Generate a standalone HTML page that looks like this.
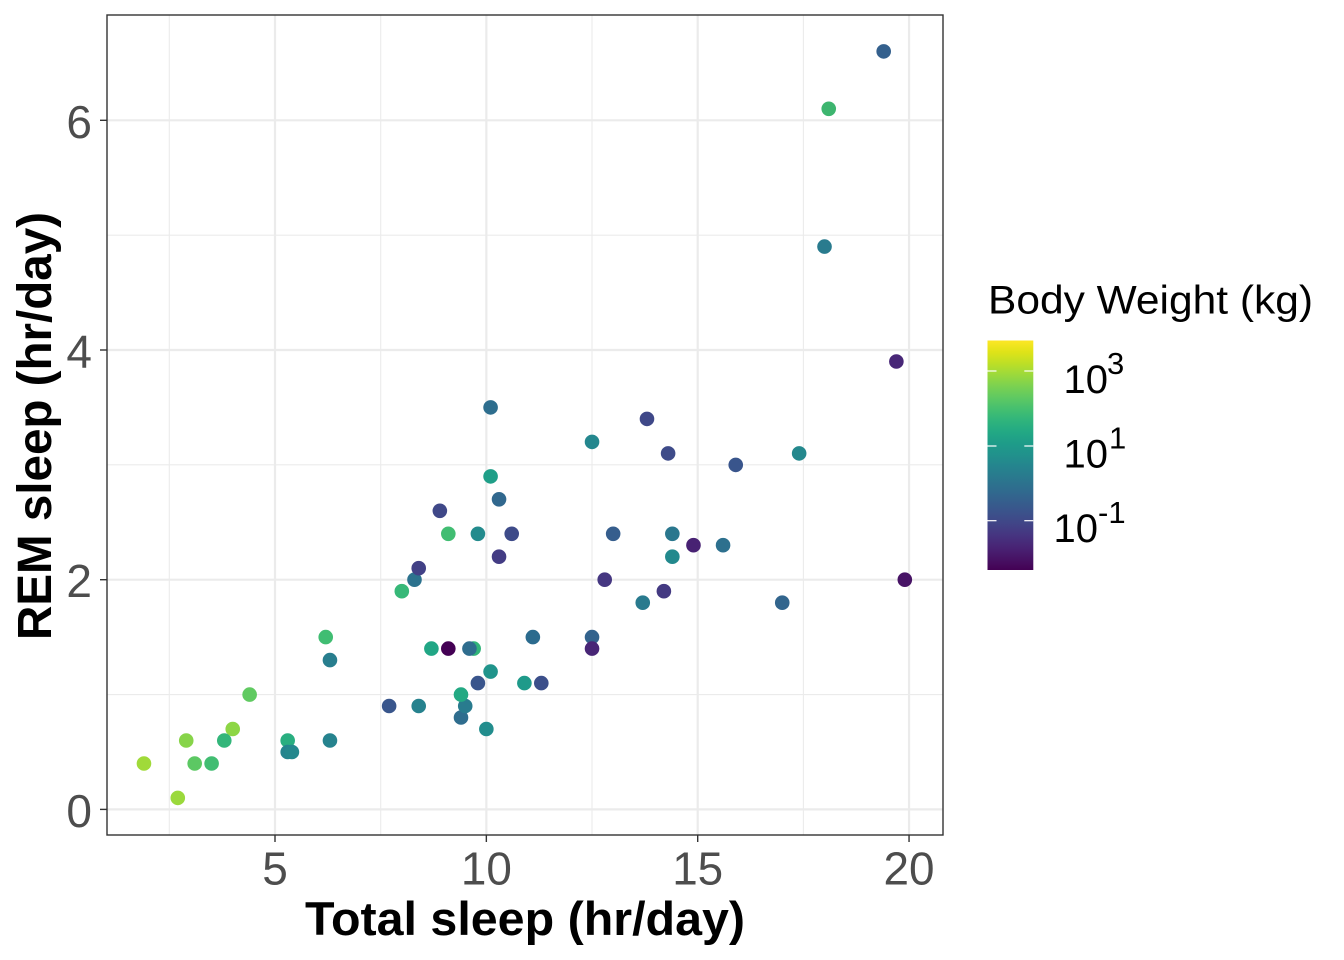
<!DOCTYPE html>
<html>
<head>
<meta charset="utf-8">
<style>
html,body{margin:0;padding:0;background:#fff;}
svg{display:block;}
text{font-family:"Liberation Sans",Arial,sans-serif;}
</style>
</head>
<body>
<svg width="1344" height="960" viewBox="0 0 1344 960" xmlns="http://www.w3.org/2000/svg">
<defs>
<linearGradient id="vir" x1="0" y1="1" x2="0" y2="0">
<stop offset="0" stop-color="#440154"/>
<stop offset="0.05" stop-color="#471365"/>
<stop offset="0.1" stop-color="#482475"/>
<stop offset="0.15" stop-color="#463480"/>
<stop offset="0.2" stop-color="#414487"/>
<stop offset="0.25" stop-color="#3b528b"/>
<stop offset="0.3" stop-color="#355f8d"/>
<stop offset="0.35" stop-color="#2f6c8e"/>
<stop offset="0.4" stop-color="#2a788e"/>
<stop offset="0.45" stop-color="#25848e"/>
<stop offset="0.5" stop-color="#21918c"/>
<stop offset="0.55" stop-color="#1e9c89"/>
<stop offset="0.6" stop-color="#22a884"/>
<stop offset="0.65" stop-color="#2fb47c"/>
<stop offset="0.7" stop-color="#44bf70"/>
<stop offset="0.75" stop-color="#5ec962"/>
<stop offset="0.8" stop-color="#7ad151"/>
<stop offset="0.85" stop-color="#9bd93c"/>
<stop offset="0.9" stop-color="#bddf26"/>
<stop offset="0.95" stop-color="#dfe318"/>
<stop offset="1" stop-color="#fde725"/>
</linearGradient>
<clipPath id="pc"><rect x="107" y="15" width="836" height="820"/></clipPath>
</defs>

<rect x="0" y="0" width="1344" height="960" fill="#fff"/>

<!-- grid -->
<g clip-path="url(#pc)">
<g stroke="#EBEBEB" stroke-width="1.1">
<line x1="169.3" y1="15" x2="169.3" y2="835"/>
<line x1="380.7" y1="15" x2="380.7" y2="835"/>
<line x1="592.0" y1="15" x2="592.0" y2="835"/>
<line x1="803.4" y1="15" x2="803.4" y2="835"/>
<line x1="107" y1="694.55" x2="943" y2="694.55"/>
<line x1="107" y1="464.85" x2="943" y2="464.85"/>
<line x1="107" y1="235.15" x2="943" y2="235.15"/>
</g>
<g stroke="#EBEBEB" stroke-width="2.2">
<line x1="275" y1="15" x2="275" y2="835"/>
<line x1="486.35" y1="15" x2="486.35" y2="835"/>
<line x1="697.7" y1="15" x2="697.7" y2="835"/>
<line x1="909.05" y1="15" x2="909.05" y2="835"/>
<line x1="107" y1="809.4" x2="943" y2="809.4"/>
<line x1="107" y1="579.7" x2="943" y2="579.7"/>
<line x1="107" y1="350.0" x2="943" y2="350.0"/>
<line x1="107" y1="120.3" x2="943" y2="120.3"/>
</g>

<!-- points -->
<g>
<circle cx="782.24" cy="602.7" r="7.3" fill="#32658D"/>
<circle cx="672.34" cy="533.8" r="7.3" fill="#2A778E"/>
<circle cx="693.47" cy="545.2" r="7.3" fill="#482273"/>
<circle cx="232.73" cy="729.0" r="7.3" fill="#8DD645"/>
<circle cx="672.34" cy="556.7" r="7.3" fill="#23898D"/>
<circle cx="431.40" cy="648.6" r="7.3" fill="#21A685"/>
<circle cx="490.58" cy="476.4" r="7.3" fill="#1F9F88"/>
<circle cx="287.68" cy="740.5" r="7.3" fill="#29AE80"/>
<circle cx="460.99" cy="717.5" r="7.3" fill="#2F6D8E"/>
<circle cx="486.35" cy="729.0" r="7.3" fill="#228D8D"/>
<circle cx="592.03" cy="637.1" r="7.3" fill="#33638D"/>
<circle cx="499.03" cy="556.7" r="7.3" fill="#433C84"/>
<circle cx="414.49" cy="579.7" r="7.3" fill="#2C728E"/>
<circle cx="448.31" cy="648.6" r="7.3" fill="#440154"/>
<circle cx="799.15" cy="453.4" r="7.3" fill="#24888D"/>
<circle cx="287.68" cy="752.0" r="7.3" fill="#25848E"/>
<circle cx="824.51" cy="246.6" r="7.3" fill="#297B8E"/>
<circle cx="896.37" cy="361.5" r="7.3" fill="#482777"/>
<circle cx="186.23" cy="740.5" r="7.3" fill="#87D449"/>
<circle cx="194.69" cy="763.5" r="7.3" fill="#5CC863"/>
<circle cx="490.58" cy="407.4" r="7.3" fill="#2E6E8E"/>
<circle cx="524.39" cy="683.1" r="7.3" fill="#1F9A8A"/>
<circle cx="592.03" cy="441.9" r="7.3" fill="#24878E"/>
<circle cx="477.90" cy="683.1" r="7.3" fill="#3A558C"/>
<circle cx="143.96" cy="763.5" r="7.3" fill="#A0DA39"/>
<circle cx="177.78" cy="797.9" r="7.3" fill="#9BD93C"/>
<circle cx="325.72" cy="637.1" r="7.3" fill="#40BD72"/>
<circle cx="329.95" cy="740.5" r="7.3" fill="#26838E"/>
<circle cx="401.81" cy="591.2" r="7.3" fill="#37B878"/>
<circle cx="465.22" cy="706.0" r="7.3" fill="#297B8E"/>
<circle cx="883.69" cy="51.4" r="7.3" fill="#34608D"/>
<circle cx="490.58" cy="671.6" r="7.3" fill="#20948B"/>
<circle cx="663.88" cy="591.2" r="7.3" fill="#443A82"/>
<circle cx="668.11" cy="453.4" r="7.3" fill="#3E4B89"/>
<circle cx="592.03" cy="648.6" r="7.3" fill="#482676"/>
<circle cx="904.82" cy="579.7" r="7.3" fill="#471365"/>
<circle cx="389.13" cy="706.0" r="7.3" fill="#39568C"/>
<circle cx="418.72" cy="706.0" r="7.3" fill="#26828E"/>
<circle cx="224.28" cy="740.5" r="7.3" fill="#33B67A"/>
<circle cx="473.67" cy="648.6" r="7.3" fill="#32B57A"/>
<circle cx="460.99" cy="694.6" r="7.3" fill="#23A983"/>
<circle cx="499.03" cy="499.3" r="7.3" fill="#31688E"/>
<circle cx="642.75" cy="602.7" r="7.3" fill="#297A8E"/>
<circle cx="211.60" cy="763.5" r="7.3" fill="#41BD72"/>
<circle cx="291.91" cy="752.0" r="7.3" fill="#24888D"/>
<circle cx="541.30" cy="683.1" r="7.3" fill="#3C4F8A"/>
<circle cx="511.71" cy="533.8" r="7.3" fill="#3E4B89"/>
<circle cx="646.98" cy="418.9" r="7.3" fill="#3F4888"/>
<circle cx="735.74" cy="464.9" r="7.3" fill="#39558C"/>
<circle cx="604.71" cy="579.7" r="7.3" fill="#453781"/>
<circle cx="448.31" cy="533.8" r="7.3" fill="#41BD72"/>
<circle cx="249.64" cy="694.6" r="7.3" fill="#60CA61"/>
<circle cx="723.06" cy="545.2" r="7.3" fill="#2D708E"/>
<circle cx="439.85" cy="510.8" r="7.3" fill="#3F4888"/>
<circle cx="329.95" cy="660.1" r="7.3" fill="#287E8E"/>
<circle cx="477.90" cy="533.8" r="7.3" fill="#238B8D"/>
<circle cx="418.72" cy="568.2" r="7.3" fill="#424186"/>
<circle cx="613.16" cy="533.8" r="7.3" fill="#365E8D"/>
<circle cx="469.44" cy="648.6" r="7.3" fill="#2F6D8E"/>
<circle cx="828.74" cy="108.8" r="7.3" fill="#3DB56F"/>
<circle cx="532.85" cy="637.1" r="7.3" fill="#2B6B8E"/>
</g>
</g>

<!-- panel border -->
<rect x="107" y="15" width="836" height="820" fill="none" stroke="#333333" stroke-width="1.4"/>

<!-- ticks -->
<g stroke="#333333" stroke-width="1.4">
<line x1="100" y1="809.4" x2="107" y2="809.4"/>
<line x1="100" y1="579.7" x2="107" y2="579.7"/>
<line x1="100" y1="350.0" x2="107" y2="350.0"/>
<line x1="100" y1="120.3" x2="107" y2="120.3"/>
<line x1="275" y1="835" x2="275" y2="842"/>
<line x1="486.35" y1="835" x2="486.35" y2="842"/>
<line x1="697.7" y1="835" x2="697.7" y2="842"/>
<line x1="909.05" y1="835" x2="909.05" y2="842"/>
</g>

<!-- tick labels -->
<g fill="#4D4D4D" font-size="46">
<text x="92" y="826.9" text-anchor="end">0</text>
<text x="92" y="597.2" text-anchor="end">2</text>
<text x="92" y="367.5" text-anchor="end">4</text>
<text x="92" y="137.8" text-anchor="end">6</text>
<text x="275" y="884.5" text-anchor="middle">5</text>
<text x="486.35" y="884.5" text-anchor="middle" textLength="51" lengthAdjust="spacingAndGlyphs">10</text>
<text x="697.7" y="884.5" text-anchor="middle" textLength="51" lengthAdjust="spacingAndGlyphs">15</text>
<text x="909.05" y="884.5" text-anchor="middle" textLength="51" lengthAdjust="spacingAndGlyphs">20</text>
</g>

<!-- axis titles -->
<text x="525" y="935" text-anchor="middle" font-size="47" font-weight="bold" fill="#000" textLength="440" lengthAdjust="spacingAndGlyphs">Total sleep (hr/day)</text>
<text transform="translate(51,426) rotate(-90)" x="0" y="0" text-anchor="middle" font-size="48" font-weight="bold" fill="#000" textLength="428" lengthAdjust="spacingAndGlyphs">REM sleep (hr/day)</text>

<!-- legend -->
<text x="988" y="313.3" font-size="40" fill="#000" textLength="325" lengthAdjust="spacingAndGlyphs">Body Weight (kg)</text>
<rect x="987.5" y="340.5" width="45.8" height="229.5" fill="url(#vir)"/>
<g stroke="#ffffff" stroke-width="1.2">
<line x1="987.5" y1="371" x2="996.5" y2="371"/>
<line x1="1024.3" y1="371" x2="1033.3" y2="371"/>
<line x1="987.5" y1="446" x2="996.5" y2="446"/>
<line x1="1024.3" y1="446" x2="1033.3" y2="446"/>
<line x1="987.5" y1="520.7" x2="996.5" y2="520.7"/>
<line x1="1024.3" y1="520.7" x2="1033.3" y2="520.7"/>
</g>
<g fill="#000">
<text x="1063.5" y="393" font-size="40">10</text>
<text x="1107" y="374" font-size="31">3</text>
<text x="1063.5" y="467.5" font-size="40">10</text>
<text x="1109" y="448.5" font-size="31">1</text>
<text x="1053.5" y="542" font-size="40">10</text>
<text x="1098" y="523" font-size="31">-1</text>
</g>
</svg>
</body>
</html>
